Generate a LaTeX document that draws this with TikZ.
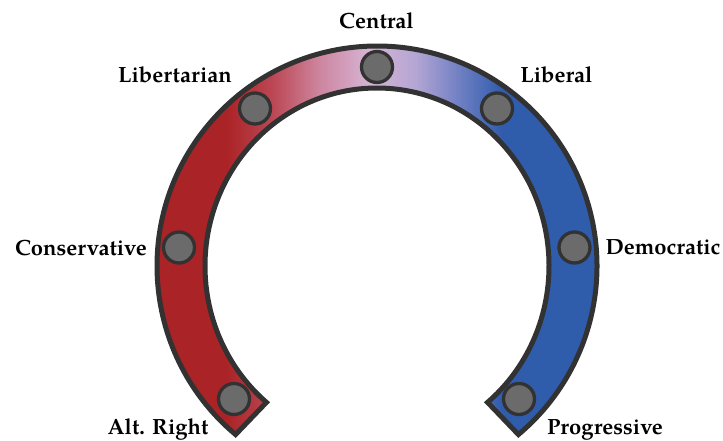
\documentclass[tikz,border=0pt]{standalone}
\usepackage{fontspec}
\setmainfont{TeX Gyre Pagella}
\usetikzlibrary{calc}
\definecolor{cred}{RGB}{170,35,38}
\definecolor{cred2}{RGB}{188,72,85}
\definecolor{cpink}{RGB}{205,132,158}
\definecolor{clav}{RGB}{214,180,212}
\definecolor{clav2}{RGB}{180,166,212}
\definecolor{cblue2}{RGB}{112,128,195}
\definecolor{cblue}{RGB}{48,92,172}
\definecolor{cborder}{RGB}{50,50,50}
\definecolor{cdot}{RGB}{107,107,107}
\pgfdeclarehorizontalshading{polar}{100bp}{color(0bp)=(cred); color(35bp)=(cred); color(40bp)=(cred2); color(44.7bp)=(cpink); color(50bp)=(clav); color(54.9bp)=(clav2); color(59.4bp)=(cblue2); color(64bp)=(cblue); color(100bp)=(cblue)}
\begin{document}
\begin{tikzpicture}[x=1pt,y=-1pt,
  band/.style={draw=cborder, line width=5pt, line join=miter, shading=polar},
  dot/.style={circle, minimum size=31pt, inner sep=0pt, fill=cdot, draw=cborder, line width=3.3pt},
  lbl/.style={anchor=base, inner sep=0pt, font=\fontsize{22}{26}\selectfont\bfseries}]
\useasboundingbox (0,0) rectangle (723,440);
\coordinate (C) at (377,266);
\path[band] ($(C)+(-230:220)$) arc[start angle=-230, end angle=50, radius=220]
  -- ($(C)+(50:172 and 178)$) arc[start angle=50, end angle=-230, x radius=172, y radius=178] -- cycle;
\node[dot] (central) at (377,67) {};
\node[dot] (libertarian) at (255,108.5) {};
\node[dot] (liberal) at (497,108.5) {};
\node[dot] (conservative) at (179,247.5) {};
\node[dot] (democratic) at (574.5,247.5) {};
\node[dot] (altright) at (234,399) {};
\node[dot] (progressive) at (519,399) {};
\node[lbl] (tcentral) at (376.5,28) {Central};
\node[lbl] (tlibertarian) at (175,82.5) {Libertarian};
\node[lbl] (tliberal) at (556.5,82) {Liberal};
\node[lbl] (tconservative) at (81,255) {Conservative};
\node[lbl] (tdemocratic) at (663,254) {Democratic};
\node[lbl] (taltright) at (158,434) {Alt. Right};
\node[lbl] (tprogressive) at (605,434) {Progressive};
\end{tikzpicture}
\end{document}
